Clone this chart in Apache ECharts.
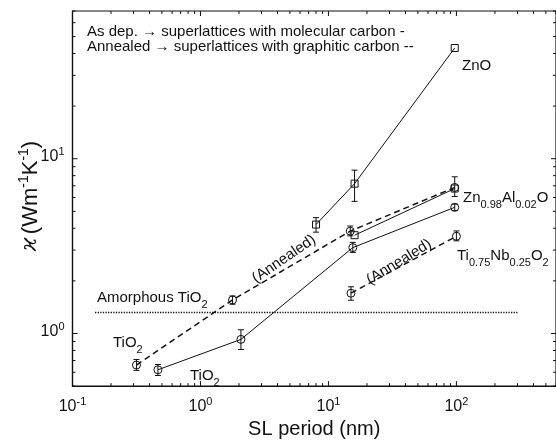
<!DOCTYPE html>
<html><head><meta charset="utf-8">
<script src="https://cdn.jsdelivr.net/npm/echarts@6/dist/echarts.min.js"></script>
<style>html,body{margin:0;padding:0;background:#fff}#c{width:556px;height:444px}</style>
</head><body><div id="c"></div>
<script>
// ---- axis ranges & tick labels ----
const xRange = [0.1, 600];
const yRange = [0.5, 70];
const xDecades = [0.1, 1, 10, 100];
const yDecades = [0.1, 1, 10];
const minorMultipliers = [2, 3, 4, 5, 6, 7, 8, 9];

// ---- data (SL period in nm, kappa in W m^-1 K^-1) ----
const znoPeriod = [8, 16, 97];
const znoKappa = [4.2, 7.2, 43];
const znoErrLo = [3.8, 5.7, null];
const znoErrHi = [4.6, 8.6, null];

const znalPeriod = [16, 97];
const znalKappa = [3.65, 6.75];

const asdepPeriod = [0.465, 2.07, 15.5, 97];
const asdepKappa = [0.62, 0.925, 3.1, 5.27];
const asdepErrLo = [0.575, 0.81, 2.91, 5.05];
const asdepErrHi = [0.665, 1.05, 3.32, 5.5];

const annPeriod = [0.316, 1.78, 14.8, 97];
const annKappa = [0.66, 1.555, 3.85, 6.85];
const annErrLo = [0.615, 1.47, 3.62, 6.08];
const annErrHi = [0.71, 1.64, 4.12, 7.88];

const tinbPeriod = [15, 100];
const tinbKappa = [1.7, 3.6];
const tinbErrLo = [1.55, 3.39];
const tinbErrHi = [1.85, 3.86];

const amorphPeriod = [0.15, 300];
const amorphKappa = [1.32, 1.32];

// ---- helpers ----
const FONT = 'Liberation Sans';
const INK = '#111';
const zip = (a, b) => a.map((v, i) => [v, b[i]]);
const errData = (p, lo, hi) => p.map((v, i) => [v, lo[i], hi[i]]).filter(d => d[1] != null);

const xTickData = [];
xDecades.forEach(d => {
  xTickData.push([d, yRange[0], 1]);
  minorMultipliers.forEach(m => { const v = d * m; if (v <= xRange[1]) xTickData.push([v, yRange[0], 0]); });
});
const yTickData = [];
yDecades.forEach(d => {
  if (d >= yRange[0]) yTickData.push([xRange[0], d, 1]);
  minorMultipliers.forEach(m => { const v = d * m; if (v >= yRange[0] && v <= yRange[1]) yTickData.push([xRange[0], v, 0]); });
});

const richLabel = {
  n: { fontFamily: FONT, fontSize: 16, color: INK, padding: [0, 0, 4, 0] },
  sup: { fontFamily: FONT, fontSize: 11, color: INK, padding: [0, 0, 13, 0] }
};
function decadeFmt(v) {
  const l = Math.log10(v), e = Math.round(l);
  if (Math.abs(l - e) > 1e-6) return '';
  return '{n|10}{sup|' + e + '}';
}

function errRender(params, api) {
  const x = api.value(0), lo = api.value(1), hi = api.value(2);
  const a = api.coord([x, lo]), b = api.coord([x, hi]);
  const w = 3, st = { stroke: INK, lineWidth: 1 };
  return { type: 'group', children: [
    { type: 'line', shape: { x1: a[0], y1: a[1], x2: b[0], y2: b[1] }, style: st },
    { type: 'line', shape: { x1: a[0] - w, y1: a[1], x2: a[0] + w, y2: a[1] }, style: st },
    { type: 'line', shape: { x1: b[0] - w, y1: b[1], x2: b[0] + w, y2: b[1] }, style: st }
  ]};
}
function xTickRender(params, api) {
  const v = api.value(0), major = api.value(2);
  const b = api.coord([v, yRange[0]]), t = api.coord([v, yRange[1]]);
  const L = major ? 5 : 3, st = { stroke: INK, lineWidth: 1 };
  return { type: 'group', children: [
    { type: 'line', shape: { x1: b[0], y1: b[1], x2: b[0], y2: b[1] - L }, style: st },
    { type: 'line', shape: { x1: t[0], y1: t[1], x2: t[0], y2: t[1] + L }, style: st }
  ]};
}
function yTickRender(params, api) {
  const v = api.value(1), major = api.value(2);
  const l = api.coord([xRange[0], v]), r = api.coord([xRange[1], v]);
  const L = major ? 5 : 3, st = { stroke: INK, lineWidth: 1 };
  return { type: 'group', children: [
    { type: 'line', shape: { x1: l[0], y1: l[1], x2: l[0] + L, y2: l[1] }, style: st },
    { type: 'line', shape: { x1: r[0], y1: r[1], x2: r[0] - L, y2: r[1] }, style: st }
  ]};
}

function lineSeries(name, data, shape, size, lineType, lw) {
  return {
    name, type: 'line', data, animation: false, z: 3,
    symbol: shape, symbolSize: size, showSymbol: true,
    itemStyle: { color: 'rgba(255,255,255,0)', borderColor: INK, borderWidth: 1 },
    lineStyle: { color: INK, width: lw, type: lineType }
  };
}

const sub = { fontFamily: FONT, fontSize: 11, fill: INK, padding: [9, 0, 0, 0] };
const main = { fontFamily: FONT, fontSize: 15, fill: INK, padding: [0, 0, 4, 0] };

const chart = echarts.init(document.getElementById('c'), null, { renderer: 'canvas' });
chart.setOption({
  backgroundColor: '#fff',
  animation: false,
  grid: { left: 72.5, top: 11, width: 485, height: 381, show: true, borderColor: INK, borderWidth: 1.2, backgroundColor: 'transparent' },
  xAxis: {
    type: 'log', logBase: 10, min: xRange[0], max: xRange[1],
    axisLine: { show: true, lineStyle: { color: INK, width: 1.2 } },
    axisTick: { show: false }, splitLine: { show: false }, minorTick: { show: false },
    axisLabel: { formatter: decadeFmt, rich: richLabel, margin: 10, showMaxLabel: false },
    name: 'SL period (nm)', nameLocation: 'middle', nameGap: 31,
    nameTextStyle: { fontFamily: FONT, fontSize: 20, color: INK }
  },
  yAxis: {
    type: 'log', logBase: 10, min: yRange[0], max: yRange[1],
    axisLine: { show: true, lineStyle: { color: INK, width: 1.2 } },
    axisTick: { show: false }, splitLine: { show: false }, minorTick: { show: false },
    axisLabel: { formatter: decadeFmt, rich: richLabel, margin: 8, showMaxLabel: false, showMinLabel: false }
  },
  graphic: [
    { type: 'text', x: 87, y: 24, style: { text: 'As dep. \u2192 superlattices with molecular carbon -\nAnnealed \u2192 superlattices with graphitic carbon --', font: '15px "Liberation Sans"', fill: INK, lineHeight: 15 } },
    { type: 'text', x: 33, y: 196, rotation: Math.PI / 2, style: {
      text: '{k|\u03f0} {m|(Wm}{s|-1}{m|K}{s|-1}{m|)}', align: 'center', verticalAlign: 'middle',
      rich: {
        k: { fontFamily: 'DejaVu Serif', fontStyle: 'italic', fontSize: 22, fill: INK, padding: [0, 0, 5, 0] },
        m: { fontFamily: FONT, fontSize: 22, fill: INK, padding: [0, 0, 5, 0] },
        s: { fontFamily: FONT, fontSize: 14, fill: INK, padding: [0, 0, 17, 0] }
      } } },
    { type: 'text', x: 462, y: 58, style: { text: 'ZnO', font: '15px "Liberation Sans"', fill: INK } },
    { type: 'text', x: 463, y: 190, style: { text: '{m|Zn}{s|0.98}{m|Al}{s|0.02}{m|O}', rich: { m: main, s: sub } } },
    { type: 'text', x: 457, y: 248, style: { text: '{m|Ti}{s|0.75}{m|Nb}{s|0.25}{m|O}{s|2}', rich: { m: main, s: sub } } },
    { type: 'text', x: 97, y: 290, style: { text: '{m|Amorphous TiO}{s|2}', rich: { m: main, s: sub } } },
    { type: 'text', x: 113, y: 335, style: { text: '{m|TiO}{s|2}', rich: { m: main, s: sub } } },
    { type: 'text', x: 190, y: 368, style: { text: '{m|TiO}{s|2}', rich: { m: main, s: sub } } },
    { type: 'text', x: 284, y: 259, rotation: 0.6, style: { text: '(Annealed)', font: '15px "Liberation Sans"', fill: INK, align: 'center', verticalAlign: 'middle' } },
    { type: 'text', x: 399, y: 262, rotation: 0.55, style: { text: '(Annealed)', font: '15px "Liberation Sans"', fill: INK, align: 'center', verticalAlign: 'middle' } }
  ],
  series: [
    { type: 'custom', renderItem: xTickRender, data: xTickData, encode: { x: 0, y: 1 }, silent: true, z: 1 },
    { type: 'custom', renderItem: yTickRender, data: yTickData, encode: { x: 0, y: 1 }, silent: true, z: 1 },
    Object.assign(lineSeries('Amorphous TiO2', zip(amorphPeriod, amorphKappa), 'none', 0, [1.3, 1.3], 1.5), { showSymbol: false }),
    lineSeries('ZnO', zip(znoPeriod, znoKappa), 'rect', 7, 'solid', 1),
    lineSeries('Zn0.98Al0.02O as dep.', zip(znalPeriod, znalKappa), 'rect', 7, 'solid', 1),
    lineSeries('As dep.', zip(asdepPeriod, asdepKappa), 'circle', 8, 'solid', 1),
    lineSeries('Annealed', zip(annPeriod, annKappa), 'circle', 8, [6, 4], 1.5),
    lineSeries('Ti0.75Nb0.25O2 annealed', zip(tinbPeriod, tinbKappa), 'circle', 8, [6, 4], 1.5),
    { type: 'custom', renderItem: errRender, encode: { x: 0, y: [1, 2] }, z: 4, silent: true,
      data: [].concat(errData(znoPeriod, znoErrLo, znoErrHi), errData(asdepPeriod, asdepErrLo, asdepErrHi),
                      errData(annPeriod, annErrLo, annErrHi), errData(tinbPeriod, tinbErrLo, tinbErrHi)) }
  ]
});
</script></body></html>
